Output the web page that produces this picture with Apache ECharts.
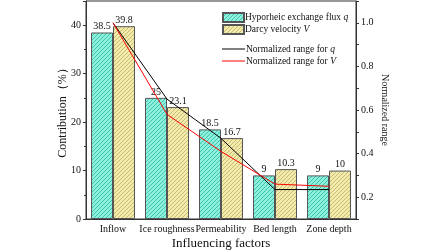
<!DOCTYPE html>
<html>
<head>
<meta charset="utf-8">
<script src="https://cdn.jsdelivr.net/npm/echarts@6/dist/echarts.min.js"></script>
<style>
  html, body { margin: 0; padding: 0; background: #fff; }
  #main { width: 448px; height: 252px; }
</style>
</head>
<body>
<div id="main"></div>
<script>
var categories = ['Inflow', 'Ice roughness', 'Permeability', 'Bed length', 'Zone depth'];
var fluxQ = [38.5, 25, 18.5, 9, 9];
var darcyV = [39.8, 23.1, 16.7, 10.3, 10];
var normQ = [1.0, 0.65, 0.47, 0.235, 0.235];
var normV = [1.0, 0.58, 0.41, 0.26, 0.25];
var rightLabels = [0.2, 0.4, 0.6, 0.8, 1.0];

// hatch pattern  ////
var makeHatch = function (bg, fg) {
	var c = document.createElement('canvas');
	c.width = 4; c.height = 4;
	var ctx = c.getContext('2d');
	ctx.fillStyle = bg;
	ctx.fillRect(0, 0, 4, 4);
	ctx.strokeStyle = fg;
	ctx.lineWidth = 1;
	ctx.beginPath();
	ctx.moveTo(0, 4); ctx.lineTo(4, 0);
	ctx.moveTo(-1, 1); ctx.lineTo(1, -1);
	ctx.moveTo(3, 5); ctx.lineTo(5, 3);
	ctx.stroke();
	return { image: c, repeat: 'repeat' };
};

var font = 'Liberation Serif';
var legendText = { fontFamily: font, fontSize: 9.5, color: '#111', padding: [0, 0, 0, -4],
	rich: { i: { fontStyle: 'italic', fontFamily: font, fontSize: 9.5 } } };

var chart = echarts.init(document.getElementById('main'));
chart.setOption({
	animation: false,
	textStyle: { fontFamily: font },
	grid: { left: 86, right: 92, top: 1, bottom: 33, show: true, borderColor: '#333', borderWidth: 1,
		outerBoundsMode: 'none' },
	legend: [
		{
			data: [{ name: 'fluxQ', icon: 'rect' }, { name: 'darcyV', icon: 'rect' }],
			orient: 'vertical',
			left: 222, top: 12, padding: 0,
			itemWidth: 21, itemHeight: 9, itemGap: 1,
			formatter: function (n) {
				return n == 'fluxQ' ? 'Hyporheic exchange flux {i|q}' : 'Darcy velocity {i|V}';
			},
			textStyle: legendText
		},
		{
			data: [{ name: 'normQ', icon: 'rect' }, { name: 'normV', icon: 'rect' }],
			orient: 'vertical',
			left: 222, top: 44, padding: 0,
			itemWidth: 23, itemHeight: 1, itemGap: 2,
			formatter: function (n) {
				return n == 'normQ' ? 'Normalized range for {i|q}' : 'Normalized range for {i|V}';
			},
			textStyle: legendText
		}
	],
	xAxis: {
		type: 'category',
		data: categories,
		name: 'Influencing factors',
		nameLocation: 'middle',
		nameGap: 18,
		nameMoveOverlap: false,
		nameTextStyle: { fontSize: 13, color: '#111', fontFamily: font },
		axisLine: { lineStyle: { color: '#333' } },
		axisTick: { inside: true, length: 3, lineStyle: { color: '#333' } },
		axisLabel: { fontSize: 10, color: '#111', margin: 5, interval: 0 }
	},
	yAxis: [
		{
			type: 'value',
			min: 0, max: 45, interval: 10,
			name: 'Contribution\uFF08%\uFF09',
			nameLocation: 'middle',
			nameGap: 17,
			nameMoveOverlap: false,
			nameTextStyle: { fontSize: 12, color: '#111', fontFamily: font },
			axisLine: { show: true, lineStyle: { color: '#333' } },
			axisTick: { show: true, length: 3, lineStyle: { color: '#333' } },
			minorTick: { show: true, splitNumber: 2, length: 2, lineStyle: { color: '#333' } },
			splitLine: { show: false },
			axisLabel: { fontSize: 10, color: '#111', margin: 5, showMaxLabel: false }
		},
		{
			type: 'value',
			min: 0.1, max: 1.1, interval: 0.1,
			name: 'Normalized range',
			nameLocation: 'middle',
			nameGap: 24,
			nameMoveOverlap: false,
			nameRotate: -90,
			nameTextStyle: { fontSize: 10, color: '#111', fontFamily: font },
			axisLine: { show: true, lineStyle: { color: '#333' } },
			axisTick: { show: true, length: 3, lineStyle: { color: '#333' } },
			splitLine: { show: false },
			axisLabel: {
				fontSize: 10, color: '#111', margin: 5,
				formatter: function (v) {
					var r = Math.round(v * 10) / 10;
					return rightLabels.indexOf(r) >= 0 ? r.toFixed(1) : '';
				}
			}
		}
	],
	series: [
		{
			name: 'fluxQ',
			type: 'bar',
			barWidth: 22,
			barGap: '0%',
			data: fluxQ,
			itemStyle: { color: makeHatch('#8ef0dc', '#3cc6ad'), borderColor: '#555', borderWidth: 1 },
			label: { show: true, position: 'top', distance: 1, fontSize: 10, color: '#111', fontFamily: font }
		},
		{
			name: 'darcyV',
			type: 'bar',
			barWidth: 22,
			data: darcyV,
			itemStyle: { color: makeHatch('#f3eab0', '#c9bd6a'), borderColor: '#555', borderWidth: 1 },
			label: { show: true, position: 'top', distance: 1, fontSize: 10, color: '#111', fontFamily: font }
		},
		{
			name: 'normQ',
			type: 'line',
			yAxisIndex: 1,
			data: normQ,
			symbol: 'none',
			lineStyle: { color: '#000', width: 1 },
			itemStyle: { color: '#000' }
		},
		{
			name: 'normV',
			type: 'line',
			yAxisIndex: 1,
			data: normV,
			symbol: 'none',
			lineStyle: { color: '#f00', width: 1 },
			itemStyle: { color: '#f00' }
		}
	]
});
</script>
</body>
</html>
